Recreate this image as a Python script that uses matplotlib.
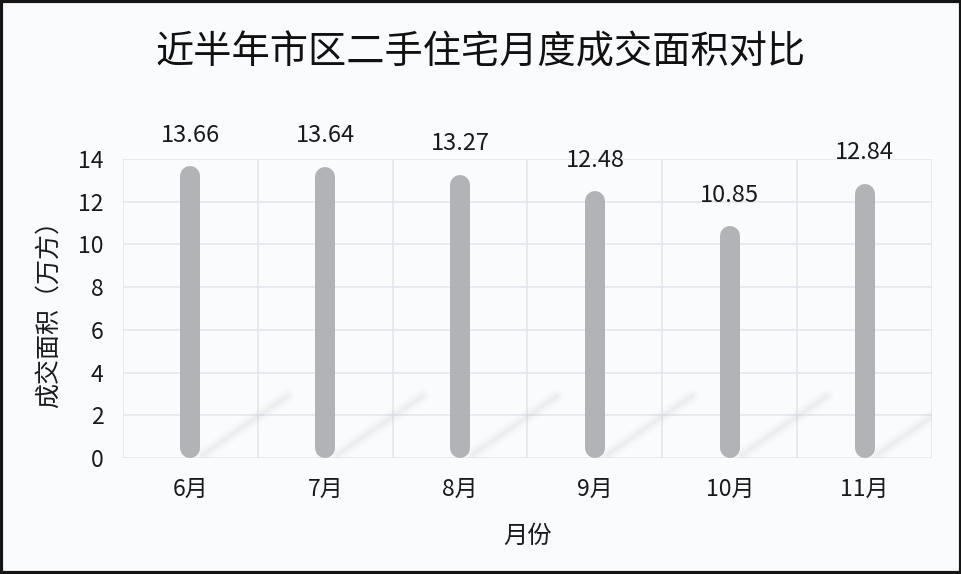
import matplotlib
matplotlib.use('Agg')
from matplotlib import pyplot as plt
from matplotlib.patches import Rectangle
import numpy as np

plt.rcParams['font.family'] = ['Noto Sans CJK SC', 'DejaVu Sans']

months = ['6月', '7月', '8月', '9月', '10月', '11月']
area = [13.66, 13.64, 13.27, 12.48, 10.85, 12.84]
yticks = [0, 2, 4, 6, 8, 10, 12, 14]

bg = '#fafbfd'
bar_color = '#b1b3b6'
grid_color = '#e4e6eb'

fig = plt.figure(figsize=(9.62, 5.74), dpi=100)
fig.set_facecolor(bg)
ax = fig.add_axes([123/962, 116/574, 809/962, 299/574])
ax.set_facecolor(bg)

x = np.arange(len(months))
ax.set_xlim(-0.5, len(months) - 0.5)
ax.set_ylim(0, 14)

# grid: horizontal at the y ticks, vertical at the category borders
ax.set_yticks(yticks)
ax.set_xticks(x)
ax.set_xticks(np.arange(-0.5, len(months)), minor=True)
ax.grid(True, axis='y', color=grid_color, linewidth=1.1)
ax.grid(True, axis='x', which='minor', color=grid_color, linewidth=1.1)
ax.grid(False, axis='x', which='major')
ax.set_axisbelow(True)
for s in ax.spines.values():
    s.set_visible(False)
ax.tick_params(axis='both', which='both', length=0)
ax.tick_params(axis='y', pad=14, labelsize=16.5, labelcolor='#1a1a1a')
ax.tick_params(axis='x', pad=14, labelsize=16.5, labelcolor='#1a1a1a')
ax.set_xticklabels(months)

# soft diagonal shadows behind each column
for xi in x:
    sx = [xi + 0.09, xi + 0.72]
    sy = [0.15, 2.9]
    for lw, a in [(10, 0.025), (7, 0.03), (4, 0.04), (2, 0.04)]:
        ax.plot(sx, sy, color='#9a9ca3', linewidth=lw, alpha=a,
                solid_capstyle='round', zorder=1)

# capsule columns: a thick line with round caps
r = 10 / (299 / 14)  # half the column width in data units
lw_pt = 20 * 72 / 100
for xi, v in zip(x, area):
    ax.plot([xi, xi], [r, v - r], color=bar_color, linewidth=lw_pt,
            solid_capstyle='round', zorder=3)
    ax.annotate('%.2f' % v, (xi, v), xytext=(0, 22.5), textcoords='offset points',
                ha='center', va='center', fontsize=17, color='#1a1a1a',
                annotation_clip=False)

ax.set_xlabel('月份', fontsize=17.5, color='#1a1a1a', labelpad=16)
ax.set_ylabel('成交面积（万方）', fontsize=18, color='#1a1a1a', labelpad=12)

fig.text(0.5, 0.907, '近半年市区二手住宅月度成交面积对比', ha='center', va='center',
         fontsize=27.5, fontweight='light', color='#111111')

# dark frame round the whole picture
fig.patches.append(Rectangle((0.0015, 0.0025), 0.997, 0.995, transform=fig.transFigure,
                             fill=False, edgecolor='#151515', linewidth=3))

fig.savefig('out.png', dpi=100, facecolor=fig.get_facecolor())
